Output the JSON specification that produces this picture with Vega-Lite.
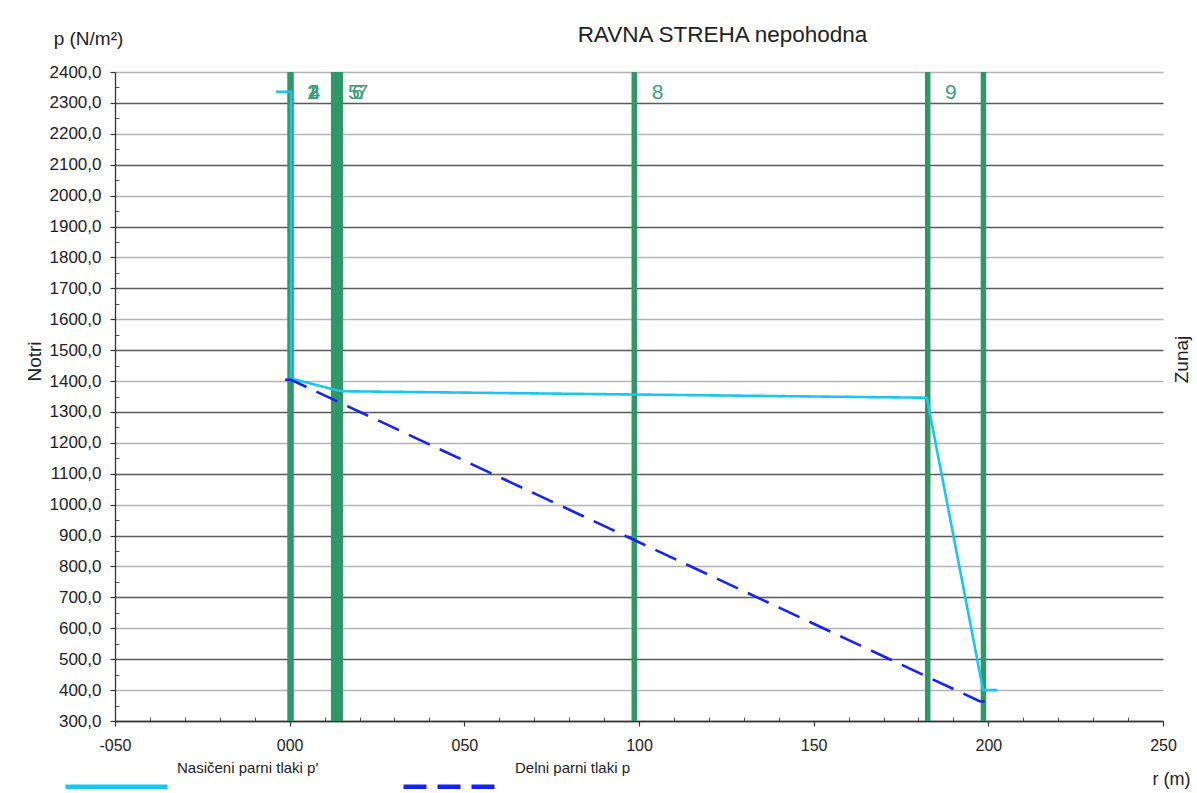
{
  "$schema": "https://vega.github.io/schema/vega-lite/v6.json",
  "autosize": {"type": "none"},
  "padding": {"left": 115, "top": 72, "right": 34, "bottom": 72},
  "width": 1048,
  "height": 649,
  "background": "white",
  "config": {
    "font": "Liberation Sans",
    "view": {"stroke": null},
    "axis": {"titleFontWeight": "normal", "titleColor": "#222", "labelColor": "#222", "titleFont": "Liberation Sans", "labelFont": "Liberation Sans"}
  },
  "datasets": {
    "lines": [
      {"series": "Nasičeni parni tlaki p'", "i": 1, "r": -3.9, "p": 2336},
      {"series": "Nasičeni parni tlaki p'", "i": 2, "r": 0.4, "p": 2336},
      {"series": "Nasičeni parni tlaki p'", "i": 3, "r": 0.4, "p": 1408},
      {"series": "Nasičeni parni tlaki p'", "i": 4, "r": 13.6, "p": 1370},
      {"series": "Nasičeni parni tlaki p'", "i": 5, "r": 15.3, "p": 1367},
      {"series": "Nasičeni parni tlaki p'", "i": 6, "r": 182.4, "p": 1346},
      {"series": "Nasičeni parni tlaki p'", "i": 7, "r": 198.5, "p": 400},
      {"series": "Nasičeni parni tlaki p'", "i": 8, "r": 202.5, "p": 400},
      {"series": "Delni parni tlaki p", "i": 1, "r": -1.3, "p": 1404},
      {"series": "Delni parni tlaki p", "i": 2, "r": 0.4, "p": 1404},
      {"series": "Delni parni tlaki p", "i": 3, "r": 197.5, "p": 364},
      {"series": "Delni parni tlaki p", "i": 4, "r": 200.2, "p": 362}
    ],
    "rules": [
      {"r": 0.1}, {"r": 0.4}, {"r": 12.6}, {"r": 13.2}, {"r": 13.9}, {"r": 14.5},
      {"r": 98.65}, {"r": 182.65}, {"r": 198.6}
    ],
    "labels": [
      {"lbl": "1", "r": 6.5, "p": 2331},
      {"lbl": "2", "r": 6.7, "p": 2331},
      {"lbl": "3", "r": 6.9, "p": 2331},
      {"lbl": "4", "r": 7.1, "p": 2331},
      {"lbl": "5", "r": 18.4, "p": 2331},
      {"lbl": "6", "r": 19.5, "p": 2331},
      {"lbl": "7", "r": 20.8, "p": 2331},
      {"lbl": "8", "r": 105.3, "p": 2331},
      {"lbl": "9", "r": 189.3, "p": 2331}
    ]
  },
  "resolve": {"axis": {"x": "independent", "y": "independent"}},
  "layer": [
    {
      "data": {"name": "rules"},
      "mark": {"type": "rule", "color": "#2f9866", "strokeWidth": 5.5},
      "encoding": {
        "x": {
          "field": "r", "type": "quantitative",
          "scale": {"domain": [-50, 250], "nice": false, "zero": false},
          "axis": {
            "orient": "bottom",
            "values": [-40, -30, -20, -10, 10, 20, 30, 40, 60, 70, 80, 90, 110, 120, 130, 140, 160, 170, 180, 190, 210, 220, 230, 240],
            "tickSize": -4, "tickColor": "#555", "tickWidth": 1,
            "labels": false, "domain": false, "grid": false, "title": null
          }
        },
        "y": {
          "datum": 300, "type": "quantitative",
          "scale": {"domain": [300, 2400], "nice": false, "zero": false},
          "axis": {
            "orient": "left",
            "values": [350, 450, 550, 650, 750, 850, 950, 1050, 1150, 1250, 1350, 1450, 1550, 1650, 1750, 1850, 1950, 2050, 2150, 2250, 2350],
            "tickSize": -4, "tickColor": "#555", "tickWidth": 1,
            "labels": false, "domain": false, "grid": false,
            "title": "p (N/m²)", "titleAngle": 0, "titleX": -27, "titleY": -34,
            "titleAlign": "center", "titleBaseline": "middle", "titleFontSize": 19
          }
        },
        "y2": {"datum": 2400}
      }
    },
    {
      "data": {"name": "lines"},
      "mark": {"type": "line", "strokeWidth": 2.6},
      "encoding": {
        "x": {
          "field": "r", "type": "quantitative",
          "axis": {
            "orient": "bottom",
            "values": [-50, 0, 50, 100, 150, 200, 250],
            "labelExpr": "(datum.value < 0 ? '-' : '') + (abs(datum.value) < 100 ? '0' : '') + (abs(datum.value) < 10 ? '0' : '') + abs(datum.value)",
            "labelFontSize": 16, "labelPadding": 11, "labelFlush": false, "labelOverlap": false,
            "tickSize": 5, "tickColor": "#333", "tickWidth": 1.2,
            "domain": true, "domainColor": "#333", "domainWidth": 1.3,
            "grid": false,
            "title": "r (m)", "titleX": 1056, "titleY": 58, "titleAngle": 0,
            "titleAlign": "center", "titleBaseline": "middle", "titleFontSize": 18
          }
        },
        "y": {
          "field": "p", "type": "quantitative",
          "axis": {
            "orient": "left",
            "values": [300, 400, 500, 600, 700, 800, 900, 1000, 1100, 1200, 1300, 1400, 1500, 1600, 1700, 1800, 1900, 2000, 2100, 2200, 2300, 2400],
            "labelExpr": "replace(format(datum.value, '.1f'), '.', ',')",
            "labelFontSize": 17, "labelPadding": 9, "labelFlush": false, "labelOverlap": false,
            "tickSize": 5, "tickColor": "#333", "tickWidth": 1.2,
            "domain": true, "domainColor": "#333", "domainWidth": 1.3,
            "grid": true, "gridWidth": 1.3,
            "gridColor": {"condition": {"test": "datum.value % 200 === 100", "value": "#5a5a5a"}, "value": "#b5b5b5"},
            "title": "Notri", "titleX": -81, "titleY": 289, "titleAngle": 270,
            "titleAlign": "center", "titleBaseline": "middle", "titleFontSize": 19
          }
        },
        "order": {"field": "i", "type": "quantitative"},
        "color": {
          "field": "series", "type": "nominal",
          "scale": {"domain": ["Nasičeni parni tlaki p'", "Delni parni tlaki p"], "range": ["#17c6f2", "#1424f0"]},
          "legend": {
            "title": null, "orient": "none", "direction": "horizontal",
            "legendX": -52, "legendY": 661, "padding": 0,
            "symbolType": "stroke", "symbolSize": 10404, "symbolStrokeWidth": 4.5,
            "labelFontSize": 15, "labelColor": "#222", "labelOffset": 7,
            "columnPadding": 75, "labelLimit": 300,
            "encode": {"labels": {"update": {"dy": {"value": -19}}}}
          }
        },
        "strokeDash": {
          "field": "series", "type": "nominal",
          "scale": {"domain": ["Nasičeni parni tlaki p'", "Delni parni tlaki p"], "range": [[1, 0], [23, 11]]},
          "legend": {
            "title": null, "orient": "none", "direction": "horizontal",
            "legendX": -52, "legendY": 661, "padding": 0,
            "symbolType": "stroke", "symbolSize": 10404, "symbolStrokeWidth": 4.5,
            "labelFontSize": 15, "labelColor": "#222", "labelOffset": 7,
            "columnPadding": 75, "labelLimit": 300,
            "encode": {"labels": {"update": {"dy": {"value": -19}}}}
          }
        }
      }
    },
    {
      "data": {"name": "labels"},
      "mark": {"type": "text", "fontSize": 21, "color": "#38a07a", "align": "center", "baseline": "middle"},
      "encoding": {
        "x": {
          "field": "r", "type": "quantitative",
          "axis": {
            "orient": "top", "labels": false, "ticks": false, "domain": false, "grid": false,
            "title": "RAVNA STREHA nepohodna", "titleX": 607, "titleY": -38, "titleAngle": 0,
            "titleAlign": "center", "titleBaseline": "middle", "titleFontSize": 22.5
          }
        },
        "y": {
          "field": "p", "type": "quantitative",
          "axis": {
            "orient": "right", "labels": false, "ticks": false, "domain": false, "grid": false,
            "title": "Zunaj", "titleX": 18, "titleY": 287, "titleAngle": 270,
            "titleAlign": "center", "titleBaseline": "middle", "titleFontSize": 19
          }
        },
        "text": {"field": "lbl"}
      }
    }
  ]
}
